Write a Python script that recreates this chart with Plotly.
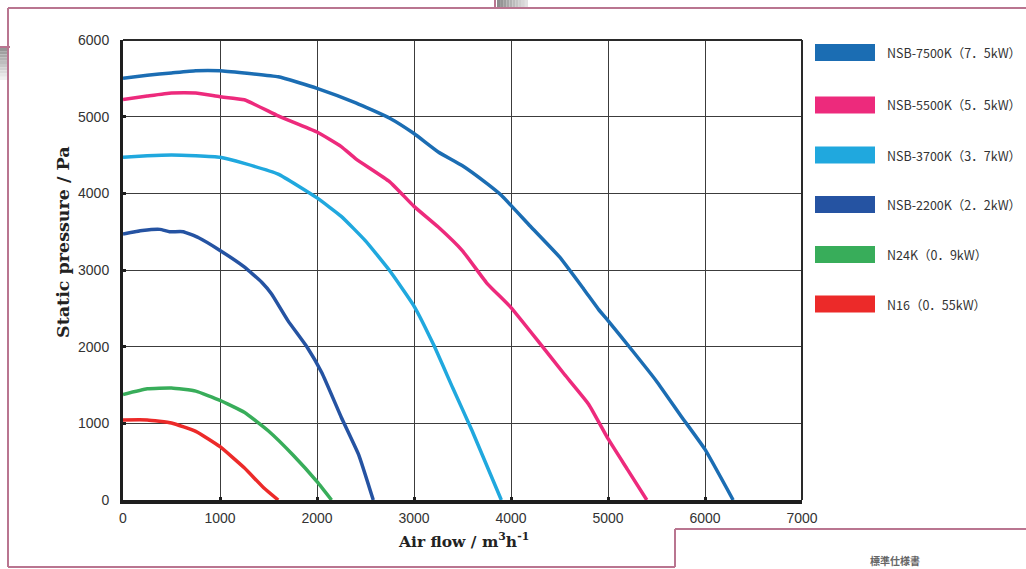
import plotly.graph_objects as go

# ---------------- data ----------------
series_names = ["NSB-7500K（7．5kW）", "NSB-5500K（5．5kW）", "NSB-3700K（3．7kW）",
                "NSB-2200K（2．2kW）", "N24K（0．9kW）", "N16（0．55kW）"]
series_colors = ["#1b6db3", "#ed2a7c", "#20a8de", "#2553a2", "#38ad5a", "#ec2a29"]

flow_7500 = [0, 250, 500, 750, 1000, 1250, 1600, 2000, 2400, 2750, 3000, 3250, 3500, 3750, 3900,
             4200, 4500, 4750, 4900, 5000, 5250, 5500, 5750, 6000, 6290]
pres_7500 = [5500, 5540, 5570, 5600, 5600, 5570, 5520, 5370, 5180, 4980, 4780, 4540, 4360, 4130, 3975,
             3570, 3170, 2750, 2490, 2340, 1950, 1550, 1100, 660, 0]

flow_5500 = [0, 250, 500, 750, 1000, 1250, 1600, 2000, 2250, 2400, 2750, 3000, 3250, 3500, 3750,
             4000, 4300, 4550, 4800, 5000, 5200, 5400]
pres_5500 = [5225, 5270, 5310, 5310, 5260, 5220, 5010, 4800, 4610, 4450, 4150, 3830, 3560, 3250, 2830,
             2510, 2040, 1640, 1250, 800, 400, 0]

flow_3700 = [0, 250, 500, 750, 1000, 1250, 1600, 2000, 2250, 2500, 2750, 3000, 3200, 3400, 3600, 3900]
pres_3700 = [4470, 4490, 4500, 4490, 4470, 4390, 4250, 3940, 3700, 3380, 2990, 2530, 2030, 1460, 900, 0]

flow_2200 = [0, 200, 380, 480, 620, 780, 1000, 1250, 1430, 1530, 1700, 1900, 2050, 2250, 2430, 2580]
pres_2200 = [3470, 3515, 3530, 3500, 3500, 3420, 3255, 3040, 2840, 2690, 2340, 1990, 1660, 1080, 590, 0]

flow_n24 = [0, 250, 500, 750, 1000, 1250, 1500, 1750, 2000, 2150]
pres_n24 = [1375, 1450, 1460, 1420, 1300, 1145, 900, 590, 240, 0]

flow_n16 = [0, 250, 500, 750, 1000, 1250, 1450, 1600]
pres_n16 = [1045, 1045, 1005, 895, 695, 420, 160, 0]

x_ticks = [0, 1000, 2000, 3000, 4000, 5000, 6000, 7000]
y_ticks = [0, 1000, 2000, 3000, 4000, 5000, 6000]

all_flows = [flow_7500, flow_5500, flow_3700, flow_2200, flow_n24, flow_n16]
all_pres = [pres_7500, pres_5500, pres_3700, pres_2200, pres_n24, pres_n16]

# ---------------- layout geometry ----------------
W, H = 1026, 569
L, R, T, B = 123, 802, 40, 500


def px(x):
    return (x - L) / (R - L)


def py(y):
    return (B - y) / (B - T)


fig = go.Figure()
for name, col, fx, pz in zip(series_names, series_colors, all_flows, all_pres):
    fig.add_trace(go.Scatter(x=fx, y=pz, mode="lines", name=name,
                             line=dict(color=col, width=3.5, shape="spline", smoothing=0.4),
                             showlegend=False, hoverinfo="x+y+name"))

shapes = []
annotations = []

# frame: top and right borders of plot area
shapes.append(dict(type="line", xref="paper", yref="paper", x0=0, x1=1, y0=1, y1=1,
                   line=dict(color="#2a2a2a", width=2)))
shapes.append(dict(type="line", xref="paper", yref="paper", x0=1, x1=1, y0=0, y1=1,
                   line=dict(color="#2a2a2a", width=2)))

# custom legend
leg_y = [52.5, 105, 155, 204.5, 254.5, 304]
for name, col, yc in zip(series_names, series_colors, leg_y):
    shapes.append(dict(type="rect", xref="paper", yref="paper",
                       x0=px(815), x1=px(875), y0=py(yc + 8.5), y1=py(yc - 8.5),
                       fillcolor=col, line=dict(width=0)))
    annotations.append(dict(xref="paper", yref="paper", x=px(885), y=py(yc), text=name,
                            showarrow=False, xanchor="left", yanchor="middle",
                            font=dict(family="Noto Sans CJK JP", size=12.5, color="#333333")))

# decorative page frame (pink)
pink = "#b97590"
frame_lines = [
    (8, 8, 1026, 8), (8, 8, 8, 567), (8, 567, 675, 567), (675, 529, 675, 567),
    (675, 529, 1026, 529), (0, 47, 10, 47), (495, 0, 495, 9),
]
for x0, y0, x1, y1 in frame_lines:
    shapes.append(dict(type="line", xref="paper", yref="paper",
                       x0=px(x0), x1=px(x1), y0=py(y0), y1=py(y1),
                       line=dict(color=pink, width=2)))

# gray gradient tabs
n = 10
for i in range(n):
    g = int(140 + (225 - 140) * i / (n - 1))
    c = f"rgb({g},{g},{g})"
    xa = 497 + (528 - 497) * i / n
    xb = 497 + (528 - 497) * (i + 1) / n
    shapes.append(dict(type="rect", xref="paper", yref="paper", x0=px(xa), x1=px(xb),
                       y0=py(7), y1=py(0), fillcolor=c, line=dict(width=0)))
    ya = 48 + (80 - 48) * i / n
    yb = 48 + (80 - 48) * (i + 1) / n
    g2 = int(150 + (240 - 150) * i / (n - 1))
    c2 = f"rgb({g2},{g2},{g2})"
    shapes.append(dict(type="rect", xref="paper", yref="paper", x0=px(0), x1=px(7),
                       y0=py(yb), y1=py(ya), fillcolor=c2, line=dict(width=0)))

annotations.append(dict(xref="paper", yref="paper", x=px(895), y=py(560), text="<b>標準仕様書</b>",
                        showarrow=False, xanchor="center", yanchor="middle",
                        font=dict(family="Noto Sans CJK JP", size=10, color="#666666")))

# axis titles
annotations.append(dict(xref="paper", yref="paper", x=px(463), y=py(540),
                        text="<b>Air flow / m<sup>3</sup>h<sup>-1</sup></b>",
                        showarrow=False, xanchor="center", yanchor="middle",
                        font=dict(family="DejaVu Serif", size=15.5, color="#222222")))
annotations.append(dict(xref="paper", yref="paper", x=px(63), y=py(242),
                        text="<b>Static pressure / Pa</b>", textangle=-90,
                        showarrow=False, xanchor="center", yanchor="middle",
                        font=dict(family="DejaVu Serif", size=17.5, color="#222222")))

tickfont = dict(family="Liberation Sans, Arial", size=14, color="#333333")

fig.update_layout(
    width=W, height=H,
    margin=dict(l=L, r=W - R, t=T, b=H - B, pad=0),
    paper_bgcolor="white", plot_bgcolor="white",
    shapes=shapes, annotations=annotations,
    xaxis=dict(range=[0, 7000], tickvals=x_ticks, ticktext=[str(v) for v in x_ticks],
               showgrid=True, gridcolor="#3c3c3c", gridwidth=1.2,
               showline=True, linecolor="#1e1e1e", linewidth=4,
               ticks="inside", ticklen=3, tickwidth=3, tickcolor="#1e1e1e",
               tickfont=tickfont, zeroline=False, fixedrange=True, ticklabelstandoff=2),
    yaxis=dict(range=[0, 6000], tickvals=y_ticks, ticktext=[str(v) for v in y_ticks],
               showgrid=True, gridcolor="#3c3c3c", gridwidth=1.2,
               showline=True, linecolor="#1e1e1e", linewidth=3,
               ticks="inside", ticklen=3, tickwidth=3, tickcolor="#1e1e1e",
               tickfont=tickfont, zeroline=False, fixedrange=True, ticklabelstandoff=8),
)

fig.write_html("out.html", config={"displayModeBar": False},
               post_script="document.body.style.margin='0';document.body.style.padding='0';"
                           "document.body.style.overflow='hidden';")
